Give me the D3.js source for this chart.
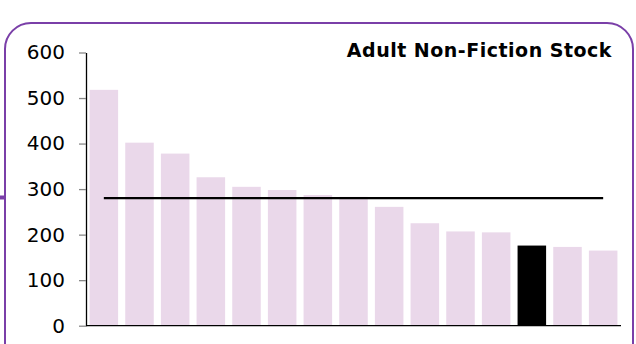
<!DOCTYPE html>
<html>
<head>
<meta charset="utf-8">
<script src="https://cdn.jsdelivr.net/npm/d3@7"></script>
<style>
  html, body { margin: 0; padding: 0; background: #fff; }
  svg { display: block; }
</style>
</head>
<body>
<svg id="chart" width="636" height="344"></svg>
<script>
// Stock per branch, sorted high to low; one branch highlighted
const branches = ["B1","B2","B3","B4","B5","B6","B7","B8","B9","B10","B11","B12","B13","B14","B15"];
const stock = [518, 402, 378, 326, 305, 298, 287, 283, 261, 225, 207, 205, 176, 173, 165];
const highlighted = ["B13"];
const averageStock = 280;
const yTicks = [0, 100, 200, 300, 400, 500, 600];
const title = "Adult Non-Fiction Stock";

const svg = d3.select("#chart");
const font = "'DejaVu Sans', Verdana, sans-serif";

// Rounded panel frame
svg.append("rect")
  .attr("x", 5).attr("y", 23)
  .attr("width", 628).attr("height", 360)
  .attr("rx", 26).attr("ry", 26)
  .attr("fill", "none")
  .attr("stroke", "#7a3fa8")
  .attr("stroke-width", 2);
svg.append("line")
  .attr("x1", 0).attr("x2", 5)
  .attr("y1", 197.5).attr("y2", 197.5)
  .attr("stroke", "#7a3fa8").attr("stroke-width", 4);

const x = d3.scaleBand()
  .domain(branches)
  .range([86, 621])
  .paddingInner(0.2)
  .paddingOuter(0.1);

const y = d3.scaleLinear()
  .domain([0, 600])
  .range([325.7, 52.5]);

// Bars
svg.append("g").selectAll("rect")
  .data(branches)
  .join("rect")
  .attr("x", d => x(d))
  .attr("width", x.bandwidth())
  .attr("y", (d, i) => y(stock[i]))
  .attr("height", (d, i) => y(0) - y(stock[i]))
  .attr("fill", d => highlighted.includes(d) ? "#000000" : "#ead8ea");

// Average line across band centres
svg.append("line")
  .attr("x1", x(branches[0]) + x.bandwidth() / 2)
  .attr("x2", x(branches[branches.length - 1]) + x.bandwidth() / 2)
  .attr("y1", y(averageStock)).attr("y2", y(averageStock))
  .attr("stroke", "#000").attr("stroke-width", 2.2);

// Y axis
const yAxis = svg.append("g")
  .attr("transform", "translate(86,0)")
  .call(d3.axisLeft(y).tickValues(yTicks).tickSize(7).tickPadding(14).tickSizeOuter(0));
yAxis.select(".domain").attr("stroke", "#000").attr("stroke-width", 1.3);
yAxis.selectAll(".tick line").attr("stroke", "#888").attr("stroke-width", 1.3);
yAxis.selectAll(".tick text")
  .attr("font-family", font)
  .attr("font-size", 20)
  .attr("fill", "#000");

// X baseline
svg.append("line")
  .attr("x1", 86).attr("x2", 621)
  .attr("y1", y(0)).attr("y2", y(0))
  .attr("stroke", "#000").attr("stroke-width", 1.3);

// Title
svg.append("text")
  .attr("x", 612).attr("y", 56.7)
  .attr("text-anchor", "end")
  .attr("font-family", font)
  .attr("font-weight", "bold")
  .attr("font-size", 19)
  .attr("letter-spacing", 0.5)
  .attr("fill", "#000")
  .text(title);
</script>
</body>
</html>
